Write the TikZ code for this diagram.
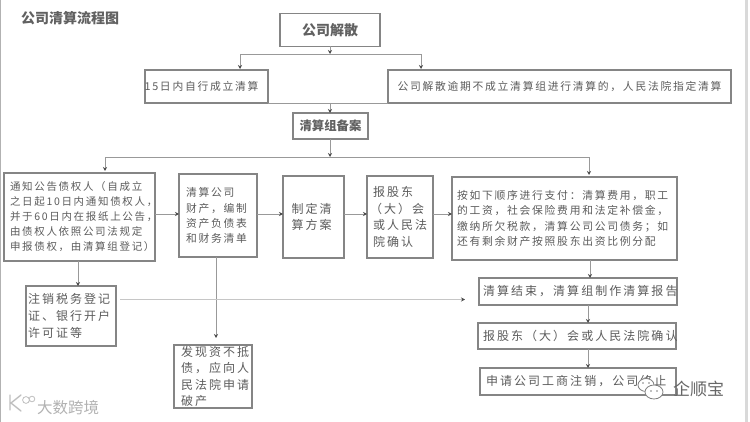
\documentclass[tikz,border=0pt]{standalone}
\usepackage{fontspec}
\usetikzlibrary{arrows.meta,calc}
\newfontfamily\cjkhead{Noto Sans CJK SC}
\newfontfamily\cjkA{Noto Sans CJK SC}[LetterSpace=16]
\newfontfamily\cjkB{Noto Sans CJK SC}[LetterSpace=17]
\definecolor{edgec}{gray}{0.52}
\definecolor{linec}{gray}{0.6}
\definecolor{inkc}{gray}{0.36}
\newcommand\lnx[2][3pt]{\mbox{\hspace{#1}#2}}
\tikzset{
 x=1pt,y=-1pt,
 boxn/.style={draw=edgec,line width=1.1pt,fill=white,anchor=north west,inner sep=0pt,outer sep=0pt,text=inkc},
 small/.style={font=\cjkA\fontsize{10.8}{15.2}\selectfont},
 big/.style={font=\cjkB\fontsize{12}{16.6}\selectfont},
 head/.style={font=\cjkhead\bfseries\fontsize{14}{16}\selectfont,text=black!62},
 conn/.style={draw=linec,line width=0.9pt},
 arr/.style={conn,-{Stealth[length=4pt,width=4pt,black!70]}},
 mark1/.style={font=\cjkhead\fontsize{15.5}{16}\selectfont,text=gray!60,inner sep=0pt},
 mark2/.style={font=\cjkhead\fontsize{17}{18}\selectfont,text=black!60,inner sep=0pt},
}
\begin{document}
\begin{tikzpicture}
\useasboundingbox (0,0) rectangle (750,422);
\fill[white] (0,0) rectangle (750,422);
\fill[gray!60] (0,0) rectangle (1.2,422);
\fill[gray!30] (745,0) rectangle (748,422);

\node[head,anchor=west,inner sep=0pt] (title) at (21,18) {公司清算流程图};

% boxes
\node[boxn,head,minimum width=100,minimum height=33] (dis) at (280,13.5) {公司解散};
\node[boxn,small,minimum width=123,minimum height=33] (self) at (145,70) {\hspace{-10pt}15日内自行成立清算};
\node[boxn,small,minimum width=343,minimum height=33] (court) at (388,70) {公司解散逾期不成立清算组进行清算的，人民法院指定清算};
\node[boxn,head,font=\cjkhead\bfseries\fontsize{12.4}{15}\selectfont,minimum width=75,minimum height=26] (file) at (293,113) {清算组备案};

\node[boxn,small,font=\cjkA\fontsize{10.5}{15}\selectfont,minimum width=151,minimum height=88,text width=151,align=left] (notice) at (4,173)
 {\lnx[6pt]{通知公告债权人（自成立}\\\lnx[6pt]{之日起10日内通知债权人，}\\\lnx[6pt]{并于60日内在报纸上公告，}\\\lnx[6pt]{由债权人依照公司法规定}\\\lnx[6pt]{申报债权，由清算组登记）}};
\node[boxn,small,minimum width=78,minimum height=83,text width=70,align=left] (assets) at (179,174)
 {\lnx{清算公司}\\\lnx{财产，编制}\\\lnx{资产负债表}\\\lnx{和财务清单}};
\node[boxn,big,minimum width=61,minimum height=82,text width=50,align=left] (plan) at (283,176)
 {\lnx{制定清}\\\lnx{算方案}};
\node[boxn,big,minimum width=66,minimum height=82,text width=60,align=left] (report) at (367,176)
 {\lnx{报股东}\\\lnx[0pt]{（大）会}\\\lnx{或人民法}\\\lnx{院确认}};
\node[boxn,small,minimum width=225,minimum height=83,text width=217,align=left] (pay) at (452,177)
 {\lnx[1pt]{按如下顺序进行支付：清算费用，职工}\\\lnx[1pt]{的工资，社会保险费用和法定补偿金，}\\\lnx[1pt]{缴纳所欠税款，清算公司公司债务；如}\\\lnx[1pt]{还有剩余财产按照股东出资比例分配}};
\node[boxn,big,minimum width=198,minimum height=27,text width=198,align=left] (end) at (479,278)
 {\lnx[4pt]{清算结束，清算组制作清算报告}};
\node[boxn,big,minimum width=198,minimum height=26,text width=198,align=left] (confirm) at (478,323)
 {\lnx[5pt]{报股东（大）会或人民法院确认}};
\node[boxn,big,minimum width=196,minimum height=27,text width=196,align=left] (cancel) at (480,368)
 {\lnx[6pt]{申请公司工商注销，公司终止}};
\node[boxn,big,minimum width=90,minimum height=60,text width=90,align=left] (tax) at (26,286)
 {\lnx[2pt]{注销税务登记}\\\lnx[2pt]{证、银行开户}\\\lnx[2pt]{许可证等}};
\node[boxn,big,minimum width=78,minimum height=63,text width=78,align=left] (bank) at (174,345)
 {\lnx[7pt]{发现资不抵}\\\lnx[7pt]{债，应向人}\\\lnx[7pt]{民法院申请}\\\lnx[7pt]{破产}};

% junctions and connector ends
\coordinate (j1) at (330,54);
\coordinate (t1) at (240,69);
\coordinate (t2) at (421,69);
\coordinate (j2) at (330,103);
\coordinate (j3) at (330,157);
\coordinate (t3) at (105,171);
\coordinate (t4) at (589,175);
\coordinate (s5) at (330,139);
\coordinate (free) at (465,299.5);
\coordinate (s6) at (120,299.5);

% connectors
\draw[arr] (dis.south -| j1) -- (j1);
\draw[arr] (j1) -| (t1);
\draw[arr] (j1) -| (t2);
\draw[conn] (self.south east) -- (court.south west);
\draw[arr] (j2) -- (file.north -| j2);
\draw[arr] (s5) -- (j3);
\draw[arr] (j3) -| (t3);
\draw[arr] (j3) -| (t4);

\draw[arr] ($(notice.east)+(0,-3)$) -- ($(assets.west)+(0,-1.5)$);
\draw[arr] ($(assets.east)+(0,-1.5)$) -- ($(plan.west)+(0,-3)$);
\draw[arr] ($(plan.east)+(0,-3)$) -- ($(report.west)+(0,-3)$);
\draw[arr] ($(report.east)+(0,-3)$) -- ($(pay.west)+(0,-4.5)$);

\draw[arr] (notice.south -| 78,0) -- (tax.north -| 78,0);
\draw[arr] (assets.south -| 216,0) -- ($(bank.north -| 216,0)+(0,-7)$);
\draw[arr,draw=gray!45] (s6) -- (free);
\draw[arr] (pay.south -| 590,0) -- (end.north -| 590,0);
\draw[arr] (end.south -| 588,0) -- (confirm.north -| 588,0);
\draw[arr] (confirm.south -| 588,0) -- (cancel.north -| 588,0);

% watermarks
\draw[gray!50,line width=1.4pt,line cap=round] (10,395) -- (10,410) (21,395) -- (11,403) -- (21,411);
\draw[gray!50,line width=0.8pt] (26,400) circle (3.4) (32,399) circle (2.8);
\node[mark1,anchor=west] (wm1) at (37,408) {大数跨境};
\draw[black!50,fill=white,line width=0.8pt] (646,385) ellipse (8 and 6.5);
\draw[black!50,fill=white,line width=0.8pt] (654,392) ellipse (9 and 7);
\fill[black!50] (643,383) circle (0.8) (649,383) circle (0.8) (651,391) circle (0.8) (657,391) circle (0.8);
\node[mark2,anchor=west] (wm2) at (673,389) {企顺宝};
\end{tikzpicture}
\end{document}
